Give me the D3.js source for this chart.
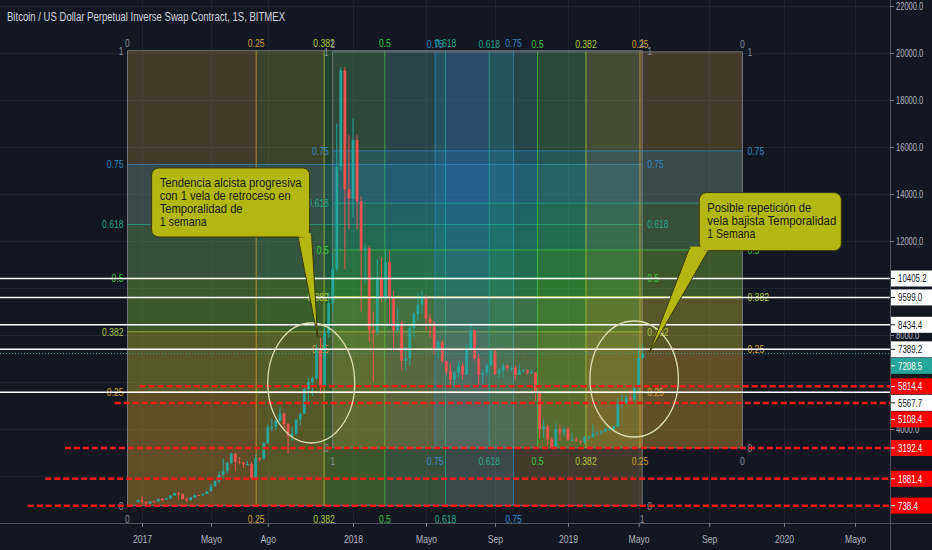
<!DOCTYPE html>
<html>
<head>
<meta charset="utf-8">
<script src="https://cdn.jsdelivr.net/npm/d3@7"></script>
<style>
  body { margin: 0; background: #131722; overflow: hidden; }
  svg { display: block; }
  text { font-family: "Liberation Sans", Arial, sans-serif; }
</style>
</head>
<body>
<svg id="chart" width="932" height="550"></svg>
<script>
// weekly candles BTC/USD (BitMEX), [week, open, high, low, close]
const candles = [
  ["2016-12-26", 900, 1000, 880, 975],
  ["2017-01-02", 975, 1150, 820, 900],
  ["2017-01-09", 900, 915, 750, 825],
  ["2017-01-16", 825, 930, 820, 920],
  ["2017-01-23", 920, 930, 880, 915],
  ["2017-01-30", 915, 1040, 910, 1020],
  ["2017-02-06", 1020, 1070, 930, 1000],
  ["2017-02-13", 1000, 1060, 980, 1050],
  ["2017-02-20", 1050, 1200, 1040, 1170],
  ["2017-02-27", 1170, 1290, 1150, 1270],
  ["2017-03-06", 1270, 1330, 1000, 1230],
  ["2017-03-13", 1230, 1260, 1000, 1020],
  ["2017-03-20", 1020, 1080, 890, 970],
  ["2017-03-27", 970, 1100, 950, 1090],
  ["2017-04-03", 1090, 1220, 1070, 1190],
  ["2017-04-10", 1190, 1200, 1150, 1170],
  ["2017-04-17", 1170, 1250, 1160, 1240],
  ["2017-04-24", 1240, 1360, 1230, 1350],
  ["2017-05-01", 1350, 1650, 1340, 1560],
  ["2017-05-08", 1560, 1800, 1550, 1790],
  ["2017-05-15", 1790, 2200, 1700, 2050],
  ["2017-05-22", 2050, 2750, 1900, 2200],
  ["2017-05-29", 2200, 2600, 2100, 2550],
  ["2017-06-05", 2550, 3000, 2500, 2950],
  ["2017-06-12", 2950, 2980, 2200, 2600],
  ["2017-06-19", 2600, 2800, 2500, 2580],
  ["2017-06-26", 2580, 2600, 2350, 2500],
  ["2017-07-03", 2500, 2650, 2450, 2510],
  ["2017-07-10", 2510, 2600, 1840, 1930],
  ["2017-07-17", 1930, 2900, 1900, 2750],
  ["2017-07-24", 2750, 2800, 2600, 2730],
  ["2017-07-31", 2730, 3450, 2700, 3400],
  ["2017-08-07", 3400, 4200, 3370, 4070],
  ["2017-08-14", 4070, 4450, 3900, 4100],
  ["2017-08-21", 4100, 4400, 3950, 4350],
  ["2017-08-28", 4350, 4950, 4300, 4650],
  ["2017-09-04", 4650, 4700, 4000, 4200],
  ["2017-09-11", 4200, 4250, 2950, 3700],
  ["2017-09-18", 3700, 4100, 3500, 3800],
  ["2017-09-25", 3800, 4400, 3750, 4400],
  ["2017-10-02", 4400, 4700, 4150, 4650],
  ["2017-10-09", 4650, 5800, 4650, 5700],
  ["2017-10-16", 5700, 6200, 5100, 6000],
  ["2017-10-23", 6000, 6250, 5400, 6150],
  ["2017-10-30", 6150, 7600, 6100, 7350],
  ["2017-11-06", 7350, 7900, 5500, 5870],
  ["2017-11-13", 5870, 8300, 5800, 8080],
  ["2017-11-20", 8080, 9800, 7900, 9350],
  ["2017-11-27", 9350, 11500, 9000, 10800],
  ["2017-12-04", 10800, 17000, 10700, 15150],
  ["2017-12-11", 15150, 19400, 15000, 19250],
  ["2017-12-18", 19250, 19400, 10800, 14200],
  ["2017-12-25", 14200, 16500, 12500, 13800],
  ["2018-01-01", 13800, 17200, 13000, 16300],
  ["2018-01-08", 16300, 16500, 12500, 13700],
  ["2018-01-15", 13700, 13900, 9000, 11600],
  ["2018-01-22", 11600, 11900, 10200, 11700],
  ["2018-01-29", 11700, 11800, 7700, 8200],
  ["2018-02-05", 8200, 9000, 6000, 8100],
  ["2018-02-12", 8100, 11200, 8000, 10400],
  ["2018-02-19", 10400, 11300, 9400, 9600],
  ["2018-02-26", 9600, 11600, 9400, 11100],
  ["2018-03-05", 11100, 11600, 8400, 9600],
  ["2018-03-12", 9600, 9900, 7300, 8200],
  ["2018-03-19", 8200, 9200, 8100, 8500],
  ["2018-03-26", 8500, 8600, 6500, 6900],
  ["2018-04-02", 6900, 7500, 6500, 7000],
  ["2018-04-09", 7000, 8400, 6700, 8300],
  ["2018-04-16", 8300, 9000, 7900, 8900],
  ["2018-04-23", 8900, 9800, 8600, 9300],
  ["2018-04-30", 9300, 9900, 8900, 9650],
  ["2018-05-07", 9650, 9700, 8200, 8700],
  ["2018-05-14", 8700, 8900, 7900, 8500],
  ["2018-05-21", 8500, 8600, 7200, 7400],
  ["2018-05-28", 7400, 7800, 7000, 7700],
  ["2018-06-04", 7700, 7800, 6800, 6900],
  ["2018-06-11", 6900, 6900, 6300, 6450],
  ["2018-06-18", 6450, 6800, 5800, 6100],
  ["2018-06-25", 6100, 6500, 5750, 6400],
  ["2018-07-02", 6400, 6900, 6200, 6700],
  ["2018-07-09", 6700, 6800, 6100, 6300],
  ["2018-07-16", 6300, 7600, 6300, 7400],
  ["2018-07-23", 7400, 8500, 7350, 8200],
  ["2018-07-30", 8200, 8200, 6900, 7000],
  ["2018-08-06", 7000, 7200, 5900, 6300],
  ["2018-08-13", 6300, 6550, 5900, 6400],
  ["2018-08-20", 6400, 6800, 6250, 6700],
  ["2018-08-27", 6700, 7400, 6650, 7300],
  ["2018-09-03", 7300, 7400, 6300, 6350],
  ["2018-09-10", 6350, 6600, 6150, 6500],
  ["2018-09-17", 6500, 6800, 6200, 6700],
  ["2018-09-24", 6700, 6750, 6450, 6600],
  ["2018-10-01", 6600, 6700, 6450, 6600],
  ["2018-10-08", 6600, 6700, 6100, 6300],
  ["2018-10-15", 6300, 6750, 6300, 6500],
  ["2018-10-22", 6500, 6550, 6400, 6500],
  ["2018-10-29", 6500, 6550, 6300, 6400],
  ["2018-11-05", 6400, 6550, 6350, 6400],
  ["2018-11-12", 6400, 6400, 5200, 5600],
  ["2018-11-19", 5600, 5600, 3600, 4000],
  ["2018-11-26", 4000, 4400, 3600, 4100],
  ["2018-12-03", 4100, 4200, 3300, 3550],
  ["2018-12-10", 3550, 3650, 3150, 3200],
  ["2018-12-17", 3200, 4250, 3200, 4000],
  ["2018-12-24", 4000, 4200, 3500, 3850],
  ["2018-12-31", 3850, 4100, 3700, 4000],
  ["2019-01-07", 4000, 4100, 3500, 3550],
  ["2019-01-14", 3550, 3850, 3500, 3550],
  ["2019-01-21", 3550, 3650, 3450, 3500],
  ["2019-01-28", 3500, 3500, 3350, 3450],
  ["2019-02-04", 3450, 3700, 3350, 3650],
  ["2019-02-11", 3650, 3700, 3550, 3650],
  ["2019-02-18", 3650, 4200, 3650, 3800],
  ["2019-02-25", 3800, 3900, 3700, 3850],
  ["2019-03-04", 3850, 3950, 3750, 3900],
  ["2019-03-11", 3900, 4050, 3850, 4000],
  ["2019-03-18", 4000, 4050, 3950, 4000],
  ["2019-03-25", 4000, 4150, 3900, 4100],
  ["2019-04-01", 4100, 5300, 4100, 5050],
  ["2019-04-08", 5050, 5450, 4900, 5100],
  ["2019-04-15", 5100, 5450, 5100, 5350],
  ["2019-04-22", 5350, 5650, 5100, 5250],
  ["2019-04-29", 5250, 5800, 5200, 5750],
  ["2019-05-06", 5750, 7500, 5600, 7020],
  ["2019-05-13", 7020, 7600, 6950, 7208.5]
];

// time axis
const tickDates = ["2017-01-02", "2017-05-01", "2017-08-07", "2018-01-01", "2018-05-07", "2018-09-03",
                   "2019-01-07", "2019-05-06", "2019-09-02", "2020-01-06", "2020-05-04"];
const tickLabels = ["2017", "Mayo", "Ago", "2018", "Mayo", "Sep", "2019", "Mayo", "Sep", "2020", "Mayo"];
const priceTicks = [4000, 8000, 12000, 14000, 16000, 18000, 20000, 22000];
const gridPrices = [2000, 4000, 6000, 8000, 10000, 12000, 14000, 16000, 18000, 20000, 22000];

// horizontal levels drawn on the chart
const whiteLevels = [10405.2, 9599.0, 8434.4, 7389.2, 5567.7];
const redLevels = [5814.4, 5108.4, 3192.4, 1881.4, 738.4];
const redStarts = ["2016-12-29", "2016-11-16", "2016-08-22", "2016-07-19", "2016-06-19"];
const lastPrice = 7208.5;

// gann / fib boxes (level 0 anchor, level 1 anchor)
const fibLevels = [0, 0.25, 0.382, 0.5, 0.618, 0.75, 1];
const fibLabels = ["0", "0.25", "0.382", "0.5", "0.618", "0.75", "1"];
const fibColors = ["#8a8d96", "#d0a030", "#b0c83a", "#3cc83c", "#22a88c", "#2f8ac4", "#8a8d96"];
const boxA = { t0: "2016-12-08", t1: "2019-05-12", p0: 738.4, p1: 20100 };
const boxB = { t0: "2019-10-28", t1: "2017-11-27", p0: 3192.4, p1: 20050 };

// ellipses [from, to, lowPrice, highPrice]
const ellipses = [
  ["2017-08-07", "2018-01-04", 3404, 8510],
  ["2019-02-13", "2019-07-12", 3660, 8596]
];

// callouts
const notes = [
  { date: "2017-11-01", price: 7915, lines: ["Tendencia alcista progresiva", "con 1 vela de retroceso en", "Temporalidad de", "1 semana"] },
  { date: "2019-05-24", price: 7250, lines: ["Posible repetición de", "vela bajista Temporalidad", "1 Semana"] }
];

const parse = d3.timeParse("%Y-%m-%d");
const svg = d3.select("#chart");
const plotW = 890, plotH = 523;

// squeeze text horizontally (the original uses a condensed face)
function squeeze(sel, k) {
  sel.each(function () {
    const w = this.getComputedTextLength();
    d3.select(this).attr("textLength", w * k).attr("lengthAdjust", "spacingAndGlyphs");
  });
}

const x = d3.scaleTime()
  .domain(["2017-01-02", "2018-01-01", "2019-01-07", "2020-01-06", "2020-05-04"].map(parse))
  .range([142, 353, 568, 784, 855]);
const y = d3.scaleLinear().domain([0, 22000]).range([plotH, 6]);

svg.append("rect").attr("width", 932).attr("height", 550).attr("fill", "#131722");
svg.append("defs").append("clipPath").attr("id", "plot")
  .append("rect").attr("width", plotW).attr("height", plotH);

// grid
const grid = svg.append("g").attr("stroke", "#1f2330").attr("stroke-width", 1);
grid.selectAll(".h").data(gridPrices).enter().append("line")
  .attr("x1", 0).attr("x2", plotW)
  .attr("y1", d => Math.round(y(d)) + 0.5).attr("y2", d => Math.round(y(d)) + 0.5);
grid.selectAll(".v").data(tickDates).enter().append("line")
  .attr("x1", d => Math.round(x(parse(d))) + 0.5).attr("x2", d => Math.round(x(parse(d))) + 0.5)
  .attr("y1", 0).attr("y2", plotH);

// fib boxes
const fib = svg.append("g").attr("clip-path", "url(#plot)");
const fibText = svg.append("g").attr("font-size", 11);
function drawBox(b) {
  const x0 = x(parse(b.t0)), x1 = x(parse(b.t1));
  const y0 = y(b.p0), y1 = y(b.p1);
  const lx = l => x0 + l * (x1 - x0);
  const ly = l => y0 + l * (y1 - y0);
  const left = Math.min(x0, x1), right = Math.max(x0, x1);
  const top = Math.min(y0, y1), bottom = Math.max(y0, y1);
  for (let i = 1; i < fibLevels.length; i++) {
    const op = i === fibLevels.length - 1 ? 0.06 : 0.23;
    const a = lx(fibLevels[i - 1]), c = lx(fibLevels[i]);
    fib.append("rect")
      .attr("x", Math.min(a, c)).attr("width", Math.abs(c - a))
      .attr("y", top).attr("height", bottom - top)
      .attr("fill", fibColors[i]).attr("fill-opacity", op);
    const p = ly(fibLevels[i - 1]), q = ly(fibLevels[i]);
    fib.append("rect")
      .attr("x", left).attr("width", right - left)
      .attr("y", Math.min(p, q)).attr("height", Math.abs(q - p))
      .attr("fill", fibColors[i]).attr("fill-opacity", op);
  }
  fibLevels.forEach((l, i) => {
    fib.append("line")
      .attr("x1", lx(l)).attr("x2", lx(l)).attr("y1", top).attr("y2", bottom)
      .attr("stroke", fibColors[i]).attr("stroke-opacity", 0.75);
    fib.append("line")
      .attr("x1", left).attr("x2", right).attr("y1", ly(l)).attr("y2", ly(l))
      .attr("stroke", fibColors[i]).attr("stroke-opacity", 0.75);
    fibText.append("text").attr("x", lx(l)).attr("y", top - 4)
      .attr("text-anchor", "middle").attr("fill", fibColors[i]).text(fibLabels[i]);
    fibText.append("text").attr("x", lx(l)).attr("y", bottom + 17)
      .attr("text-anchor", "middle").attr("fill", fibColors[i]).text(fibLabels[i]);
    fibText.append("text").attr("x", left - 4).attr("y", ly(l) + 4)
      .attr("text-anchor", "end").attr("fill", fibColors[i]).text(fibLabels[i]);
    fibText.append("text").attr("x", right + 5).attr("y", ly(l) + 4)
      .attr("text-anchor", "start").attr("fill", fibColors[i]).text(fibLabels[i]);
  });
}
drawBox(boxA);
drawBox(boxB);
squeeze(fibText.selectAll("text"), 0.78);

// candles
const bars = svg.append("g").attr("clip-path", "url(#plot)");
const col = d => d[4] >= d[1] ? "#26a69a" : "#ef5350";
bars.selectAll(".wick").data(candles).enter().append("line")
  .attr("x1", d => x(parse(d[0]))).attr("x2", d => x(parse(d[0])))
  .attr("y1", d => y(d[2])).attr("y2", d => y(d[3]))
  .attr("stroke", col).attr("stroke-width", 1);
bars.selectAll(".body").data(candles).enter().append("rect")
  .attr("x", d => x(parse(d[0])) - 1.4).attr("width", 2.8)
  .attr("y", d => y(Math.max(d[1], d[4])))
  .attr("height", d => Math.max(1, Math.abs(y(d[1]) - y(d[4]))))
  .attr("fill", col);

// level lines
const lv = svg.append("g").attr("clip-path", "url(#plot)");
lv.selectAll(".w").data(whiteLevels).enter().append("line")
  .attr("x1", 0).attr("x2", plotW).attr("y1", d => y(d)).attr("y2", d => y(d))
  .attr("stroke", "#ffffff").attr("stroke-width", 1.5);
lv.append("line").attr("x1", 0).attr("x2", plotW).attr("y1", y(lastPrice)).attr("y2", y(lastPrice))
  .attr("stroke", "#26a69a").attr("stroke-width", 1).attr("stroke-dasharray", "1,2");
lv.selectAll(".r").data(redLevels).enter().append("line")
  .attr("x1", (d, i) => x(parse(redStarts[i]))).attr("x2", plotW)
  .attr("y1", d => y(d)).attr("y2", d => y(d))
  .attr("stroke", "#ff1a1a").attr("stroke-width", 2.5).attr("stroke-dasharray", "6,3");

// ellipses
svg.append("g").selectAll("ellipse").data(ellipses).enter().append("ellipse")
  .attr("cx", d => (x(parse(d[0])) + x(parse(d[1]))) / 2)
  .attr("cy", d => (y(d[2]) + y(d[3])) / 2)
  .attr("rx", d => (x(parse(d[1])) - x(parse(d[0]))) / 2)
  .attr("ry", d => (y(d[2]) - y(d[3])) / 2)
  .attr("fill", "none").attr("stroke", "#dcdcb0").attr("stroke-width", 1.3);

// callouts (box offset relative to the tip, widths of each text line)
const noteBoxes = [
  { dx: -166, dy: -169, w: 158, h: 69, base: [-20, -6], widths: [142, 131, 83, 47] },
  { dx: 50, dy: -160, w: 142, h: 58, base: [40, 60], widths: [104, 129, 48] }
];
const noteG = svg.append("g");
notes.forEach((n, i) => {
  const tx = x(parse(n.date)), ty = y(n.price);
  const b = noteBoxes[i];
  const bx = tx + b.dx, by = ty + b.dy;
  noteG.append("path")
    .attr("d", `M${tx + b.base[0]},${by + b.h - 2} L${tx},${ty} L${tx + b.base[1]},${by + b.h - 2} Z`)
    .attr("fill", "#b4b612").attr("stroke", "#3a3a0c").attr("stroke-width", 1);
  noteG.append("rect").attr("x", bx).attr("y", by).attr("width", b.w).attr("height", b.h)
    .attr("rx", 7).attr("fill", "#b4b612").attr("stroke", "#3a3a0c").attr("stroke-width", 1);
  noteG.append("rect").attr("x", tx + Math.min(b.base[0], b.base[1]) + 1).attr("y", by + b.h - 4)
    .attr("width", Math.abs(b.base[1] - b.base[0]) - 2).attr("height", 4).attr("fill", "#b4b612");
  n.lines.forEach((s, k) => {
    noteG.append("text").attr("x", bx + 8).attr("y", by + 19 + k * 13)
      .attr("font-size", 13.5).attr("fill", "#1b1b10")
      .attr("textLength", b.widths[k]).attr("lengthAdjust", "spacingAndGlyphs")
      .text(s);
  });
});

// axes
const axisG = svg.append("g");
axisG.append("rect").attr("x", plotW).attr("y", 0).attr("width", 932 - plotW).attr("height", 550).attr("fill", "#131722");
axisG.append("rect").attr("x", 0).attr("y", plotH).attr("width", plotW).attr("height", 550 - plotH).attr("fill", "#131722");
axisG.append("line").attr("x1", plotW + 0.5).attr("x2", plotW + 0.5).attr("y1", 0).attr("y2", 550)
  .attr("stroke", "#50535e");
axisG.append("line").attr("x1", 0).attr("x2", 932).attr("y1", plotH + 0.5).attr("y2", plotH + 0.5)
  .attr("stroke", "#50535e");

const yAxis = d3.axisRight(y).tickValues(priceTicks).tickFormat(d3.format(".1f")).tickSize(4);
const ya = axisG.append("g").attr("transform", `translate(${plotW},0)`).call(yAxis);
ya.select(".domain").remove();
ya.selectAll("line").attr("stroke", "#787b86");
ya.selectAll("text").attr("fill", "#b2b5be").attr("font-size", 10.5).attr("x", 6)
  .style("font-family", "'Liberation Sans', Arial, sans-serif");
squeeze(ya.selectAll("text"), 0.72);

const xAxis = d3.axisBottom(x).tickValues(tickDates.map(parse)).tickFormat((d, i) => tickLabels[i]).tickSize(4);
const xa = axisG.append("g").attr("transform", `translate(0,${plotH})`).call(xAxis);
xa.select(".domain").remove();
xa.selectAll("line").attr("stroke", "#787b86");
xa.selectAll("text").attr("fill", "#b2b5be").attr("font-size", 11.5).attr("dy", "1.1em")
  .style("font-family", "'Liberation Sans', Arial, sans-serif");
squeeze(xa.selectAll("text"), 0.75);

// price labels on the axis, pushed apart where they would overlap
const tags = whiteLevels.map(v => ({ v, bg: "#ffffff", fg: "#131722" }))
  .concat(redLevels.map(v => ({ v, bg: "#ff0000", fg: "#ffffff" })))
  .concat([{ v: lastPrice, bg: "#26a69a", fg: "#ffffff" }])
  .sort((a, b) => b.v - a.v);
let prevY = -Infinity;
tags.forEach(t => { t.py = Math.max(y(t.v), prevY + 16.5); prevY = t.py; });
const tagG = axisG.selectAll(".tag").data(tags).enter().append("g")
  .attr("transform", d => `translate(${plotW + 1},${d.py})`);
tagG.append("rect").attr("x", 0).attr("y", -8).attr("width", 41).attr("height", 16).attr("fill", d => d.bg);
tagG.append("line").attr("x1", 0).attr("x2", 4).attr("stroke", d => d.fg);
const tagText = tagG.append("text").attr("x", 7).attr("y", 4).attr("font-size", 11).attr("fill", d => d.fg)
  .text(d => d.v.toFixed(1));
squeeze(tagText, 0.72);

// title
svg.append("text").attr("x", 7).attr("y", 21).attr("font-size", 12).attr("fill", "#d1d4dc")
  .attr("textLength", 278).attr("lengthAdjust", "spacingAndGlyphs")
  .text("Bitcoin / US Dollar Perpetual Inverse Swap Contract, 1S, BITMEX");
</script>
</body>
</html>
